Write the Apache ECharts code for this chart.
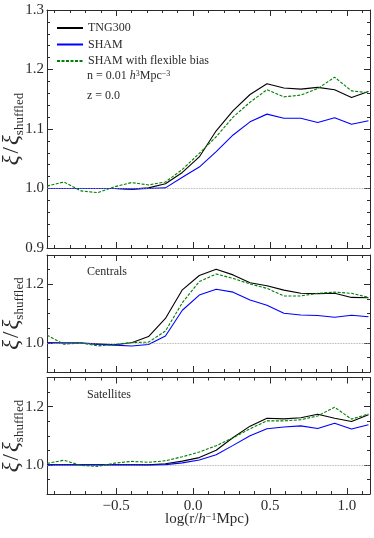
<!DOCTYPE html>
<html>
<head>
<meta charset="utf-8">
<script src="https://cdn.jsdelivr.net/npm/echarts@6.0.0/dist/echarts.min.js"></script>
<style>
  html, body { margin: 0; padding: 0; background: #fff; }
  #chart { width: 374px; height: 538px; }
</style>
</head>
<body>
<div id="chart"></div>
<script>
// bin centres, log(r / h^-1 Mpc)
const logR = [-0.95, -0.84, -0.73, -0.62, -0.51, -0.40, -0.29, -0.18, -0.07, 0.04,
              0.15, 0.26, 0.37, 0.48, 0.59, 0.70, 0.81, 0.92, 1.03, 1.14];

// all galaxies
const tngAll  = [1.000, 1.000, 1.000, 1.000, 1.000, 0.999, 1.001, 1.008, 1.027, 1.053,
                 1.097, 1.131, 1.158, 1.176, 1.169, 1.167, 1.170, 1.166, 1.153, 1.163];
const shamAll = [1.000, 1.000, 1.000, 1.000, 1.000, 0.999, 1.000, 1.001, 1.019, 1.036,
                 1.062, 1.090, 1.112, 1.125, 1.118, 1.118, 1.111, 1.119, 1.108, 1.114];
const flexAll = [1.004, 1.011, 0.996, 0.993, 1.003, 1.010, 1.006, 1.011, 1.032, 1.059,
                 1.087, 1.120, 1.145, 1.166, 1.154, 1.157, 1.168, 1.187, 1.164, 1.161];

// centrals
const tngCen  = [1.000, 0.999, 0.999, 0.996, 0.993, 1.000, 1.021, 1.083, 1.181, 1.230,
                 1.251, 1.232, 1.205, 1.195, 1.180, 1.169, 1.168, 1.169, 1.155, 1.154];
const shamCen = [1.000, 0.999, 0.999, 0.994, 0.992, 0.989, 0.994, 1.023, 1.111, 1.163,
                 1.183, 1.173, 1.146, 1.128, 1.101, 1.095, 1.093, 1.087, 1.094, 1.089];
const flexCen = [1.026, 0.995, 0.999, 0.989, 0.994, 1.001, 1.002, 1.040, 1.137, 1.209,
                 1.235, 1.220, 1.201, 1.186, 1.160, 1.160, 1.169, 1.173, 1.169, 1.155];

// satellites
const tngSat  = [1.000, 1.000, 1.000, 1.000, 1.000, 1.000, 1.000, 1.004, 1.013, 1.025,
                 1.050, 1.094, 1.133, 1.160, 1.158, 1.162, 1.174, 1.160, 1.149, 1.172];
const shamSat = [1.000, 1.000, 1.000, 1.000, 1.000, 1.000, 0.999, 1.001, 1.007, 1.017,
                 1.035, 1.067, 1.100, 1.124, 1.130, 1.134, 1.125, 1.143, 1.123, 1.138];
const flexSat = [1.005, 1.016, 0.998, 0.995, 1.006, 1.012, 1.009, 1.014, 1.028, 1.044,
                 1.066, 1.093, 1.124, 1.151, 1.151, 1.155, 1.168, 1.198, 1.157, 1.175];

// ticks
const xMajor = [-0.5, 0.0, 0.5, 1.0];
const xMinor = [-0.9, -0.8, -0.7, -0.6, -0.4, -0.3, -0.2, -0.1, 0.1, 0.2, 0.3, 0.4,
                0.6, 0.7, 0.8, 0.9, 1.1];
const yMajorTop = [0.9, 1.0, 1.1, 1.2, 1.3];
const yMinorTop = [0.92, 0.94, 0.96, 0.98, 1.02, 1.04, 1.06, 1.08, 1.12, 1.14, 1.16, 1.18,
                   1.22, 1.24, 1.26, 1.28];
const yMajorSub = [1.0, 1.2];
const yMinorSub = [0.95, 1.05, 1.1, 1.15, 1.25];

const names = ['TNG300', 'SHAM', 'SHAM with flexible bias'];
const FONT = 'Liberation Serif';
const INK = '#2b2b2b';

const grids = [
  { left: 47, top: 10, width: 323, height: 238 },
  { left: 47, top: 255, width: 323, height: 117 },
  { left: 47, top: 377.5, width: 323, height: 116.5 }
];

function pairs(ys) {
  return logR.map((x, i) => [x, ys[i]]);
}

// one axis drawing the spine + long ticks, one drawing only short ticks
function sideAxes(dim, g, pos, min, max, major, minor, labels) {
  const base = {
    type: 'value', gridIndex: g, position: pos, min: min, max: max,
    splitLine: { show: false }
  };
  const fmt = dim === 'x'
    ? v => v.toFixed(1).replace('-', '\u2212')
    : v => v.toFixed(1);
  return [
    Object.assign({}, base, {
      axisLine: { show: true, onZero: false, lineStyle: { color: INK, width: 1 } },
      axisTick: { show: true, inside: true, length: 6, customValues: major,
                  lineStyle: { color: INK, width: 1 } },
      axisLabel: { show: labels, customValues: major, formatter: fmt, color: INK,
                   fontFamily: FONT, fontSize: 15, margin: dim === 'x' ? 5 : 3 }
    }),
    Object.assign({}, base, {
      axisLine: { show: false, onZero: false },
      axisTick: { show: true, inside: true, length: 3, customValues: minor,
                  lineStyle: { color: INK, width: 1 } },
      axisLabel: { show: false }
    })
  ];
}

const xAxis = [];
const yAxis = [];
grids.forEach((gr, g) => {
  xAxis.push(...sideAxes('x', g, 'bottom', -0.95, 1.15, xMajor, xMinor, g === 2));
  xAxis.push(...sideAxes('x', g, 'top', -0.95, 1.15, xMajor, xMinor, false));
  const ma = g === 0 ? yMajorTop : yMajorSub;
  const mi = g === 0 ? yMinorTop : yMinorSub;
  yAxis.push(...sideAxes('y', g, 'left', 0.9, 1.3, ma, mi, true));
  yAxis.push(...sideAxes('y', g, 'right', 0.9, 1.3, ma, mi, false));
});

const panels = [
  [tngAll, shamAll, flexAll],
  [tngCen, shamCen, flexCen],
  [tngSat, shamSat, flexSat]
];
const styles = [
  { color: '#000000', width: 1.1, type: 'solid' },
  { color: '#0000ff', width: 1.1, type: 'solid' },
  { color: '#008000', width: 1.1, type: [3, 1.5] }
];

const series = [];
panels.forEach((sets, g) => {
  sets.forEach((ys, s) => {
    const item = {
      name: names[s], type: 'line', xAxisIndex: 4 * g, yAxisIndex: 4 * g,
      data: pairs(ys), symbol: 'none', smooth: false,
      lineStyle: styles[s], itemStyle: { color: styles[s].color },
      z: 3 + s
    };
    if (s === 0) {
      item.markLine = {
        silent: true, symbol: ['none', 'none'], label: { show: false },
        lineStyle: { color: '#9a9a9a', type: 'dotted', width: 0.8 },
        data: [{ yAxis: 1.0 }]
      };
    }
    series.push(item);
  });
});

function yName(cy) {
  return {
    type: 'text', x: 13, y: cy, rotation: Math.PI / 2,
    style: {
      text: '{a|\u03be}{s|/}{a|\u03be}{b|shuffled}',
      align: 'center', verticalAlign: 'middle', fill: INK,
      rich: {
        a: { fontFamily: FONT, fontStyle: 'italic', fontSize: 23, lineHeight: 26, fill: INK, verticalAlign: 'top' },
        s: { fontFamily: FONT, fontSize: 23, lineHeight: 26, fill: INK, verticalAlign: 'top', padding: [0, 2, 0, 2] },
        b: { fontFamily: FONT, fontSize: 13, lineHeight: 13, fill: INK, verticalAlign: 'bottom' }
      }
    }
  };
}

function note(x, y, text, rich) {
  return {
    type: 'text', x: x, y: y,
    style: { text: text, align: 'left', verticalAlign: 'middle', fill: INK,
             fontFamily: FONT, fontSize: 12, rich: rich }
  };
}

const richSmall = {
  r: { fontFamily: FONT, fontSize: 12, lineHeight: 16, fill: INK, verticalAlign: 'top' },
  i: { fontFamily: FONT, fontSize: 12, fontStyle: 'italic', lineHeight: 16, fill: INK, verticalAlign: 'top' },
  p: { fontFamily: FONT, fontSize: 8, lineHeight: 8, fill: INK, verticalAlign: 'top' }
};

const chart = echarts.init(document.getElementById('chart'), null, { renderer: 'canvas' });
chart.setOption({
  animation: false,
  backgroundColor: '#ffffff',
  grid: grids.map(g => Object.assign({ outerBoundsMode: 'none', containLabel: false }, g)),
  xAxis: xAxis,
  yAxis: yAxis,
  legend: {
    data: names, orient: 'vertical', left: 51, top: 17,
    itemWidth: 26, itemHeight: 14, itemGap: 4.5, selectedMode: false,
    itemStyle: { opacity: 0 },
    textStyle: { fontFamily: FONT, fontSize: 12, color: INK }
  },
  series: series,
  graphic: [
    yName(129), yName(313.5), yName(436),
    note(87, 78, '{r|n = 0.01 }{i|h}{p|3}{r|Mpc}{p|\u22123}', richSmall),
    note(87, 95.5, 'z = 0.0'),
    note(87, 272, 'Centrals'),
    note(87, 395, 'Satellites'),
    {
      type: 'text', x: 207, y: 522,
      style: {
        text: '{r|log(r/}{i|h}{p|\u22121}{r|Mpc)}',
        align: 'center', verticalAlign: 'middle', fill: INK,
        rich: {
          r: { fontFamily: FONT, fontSize: 15, lineHeight: 20, fill: INK, verticalAlign: 'top' },
          i: { fontFamily: FONT, fontSize: 15, fontStyle: 'italic', lineHeight: 20, fill: INK, verticalAlign: 'top' },
          p: { fontFamily: FONT, fontSize: 10, lineHeight: 10, fill: INK, verticalAlign: 'top' }
        }
      }
    }
  ]
});
</script>
</body>
</html>
